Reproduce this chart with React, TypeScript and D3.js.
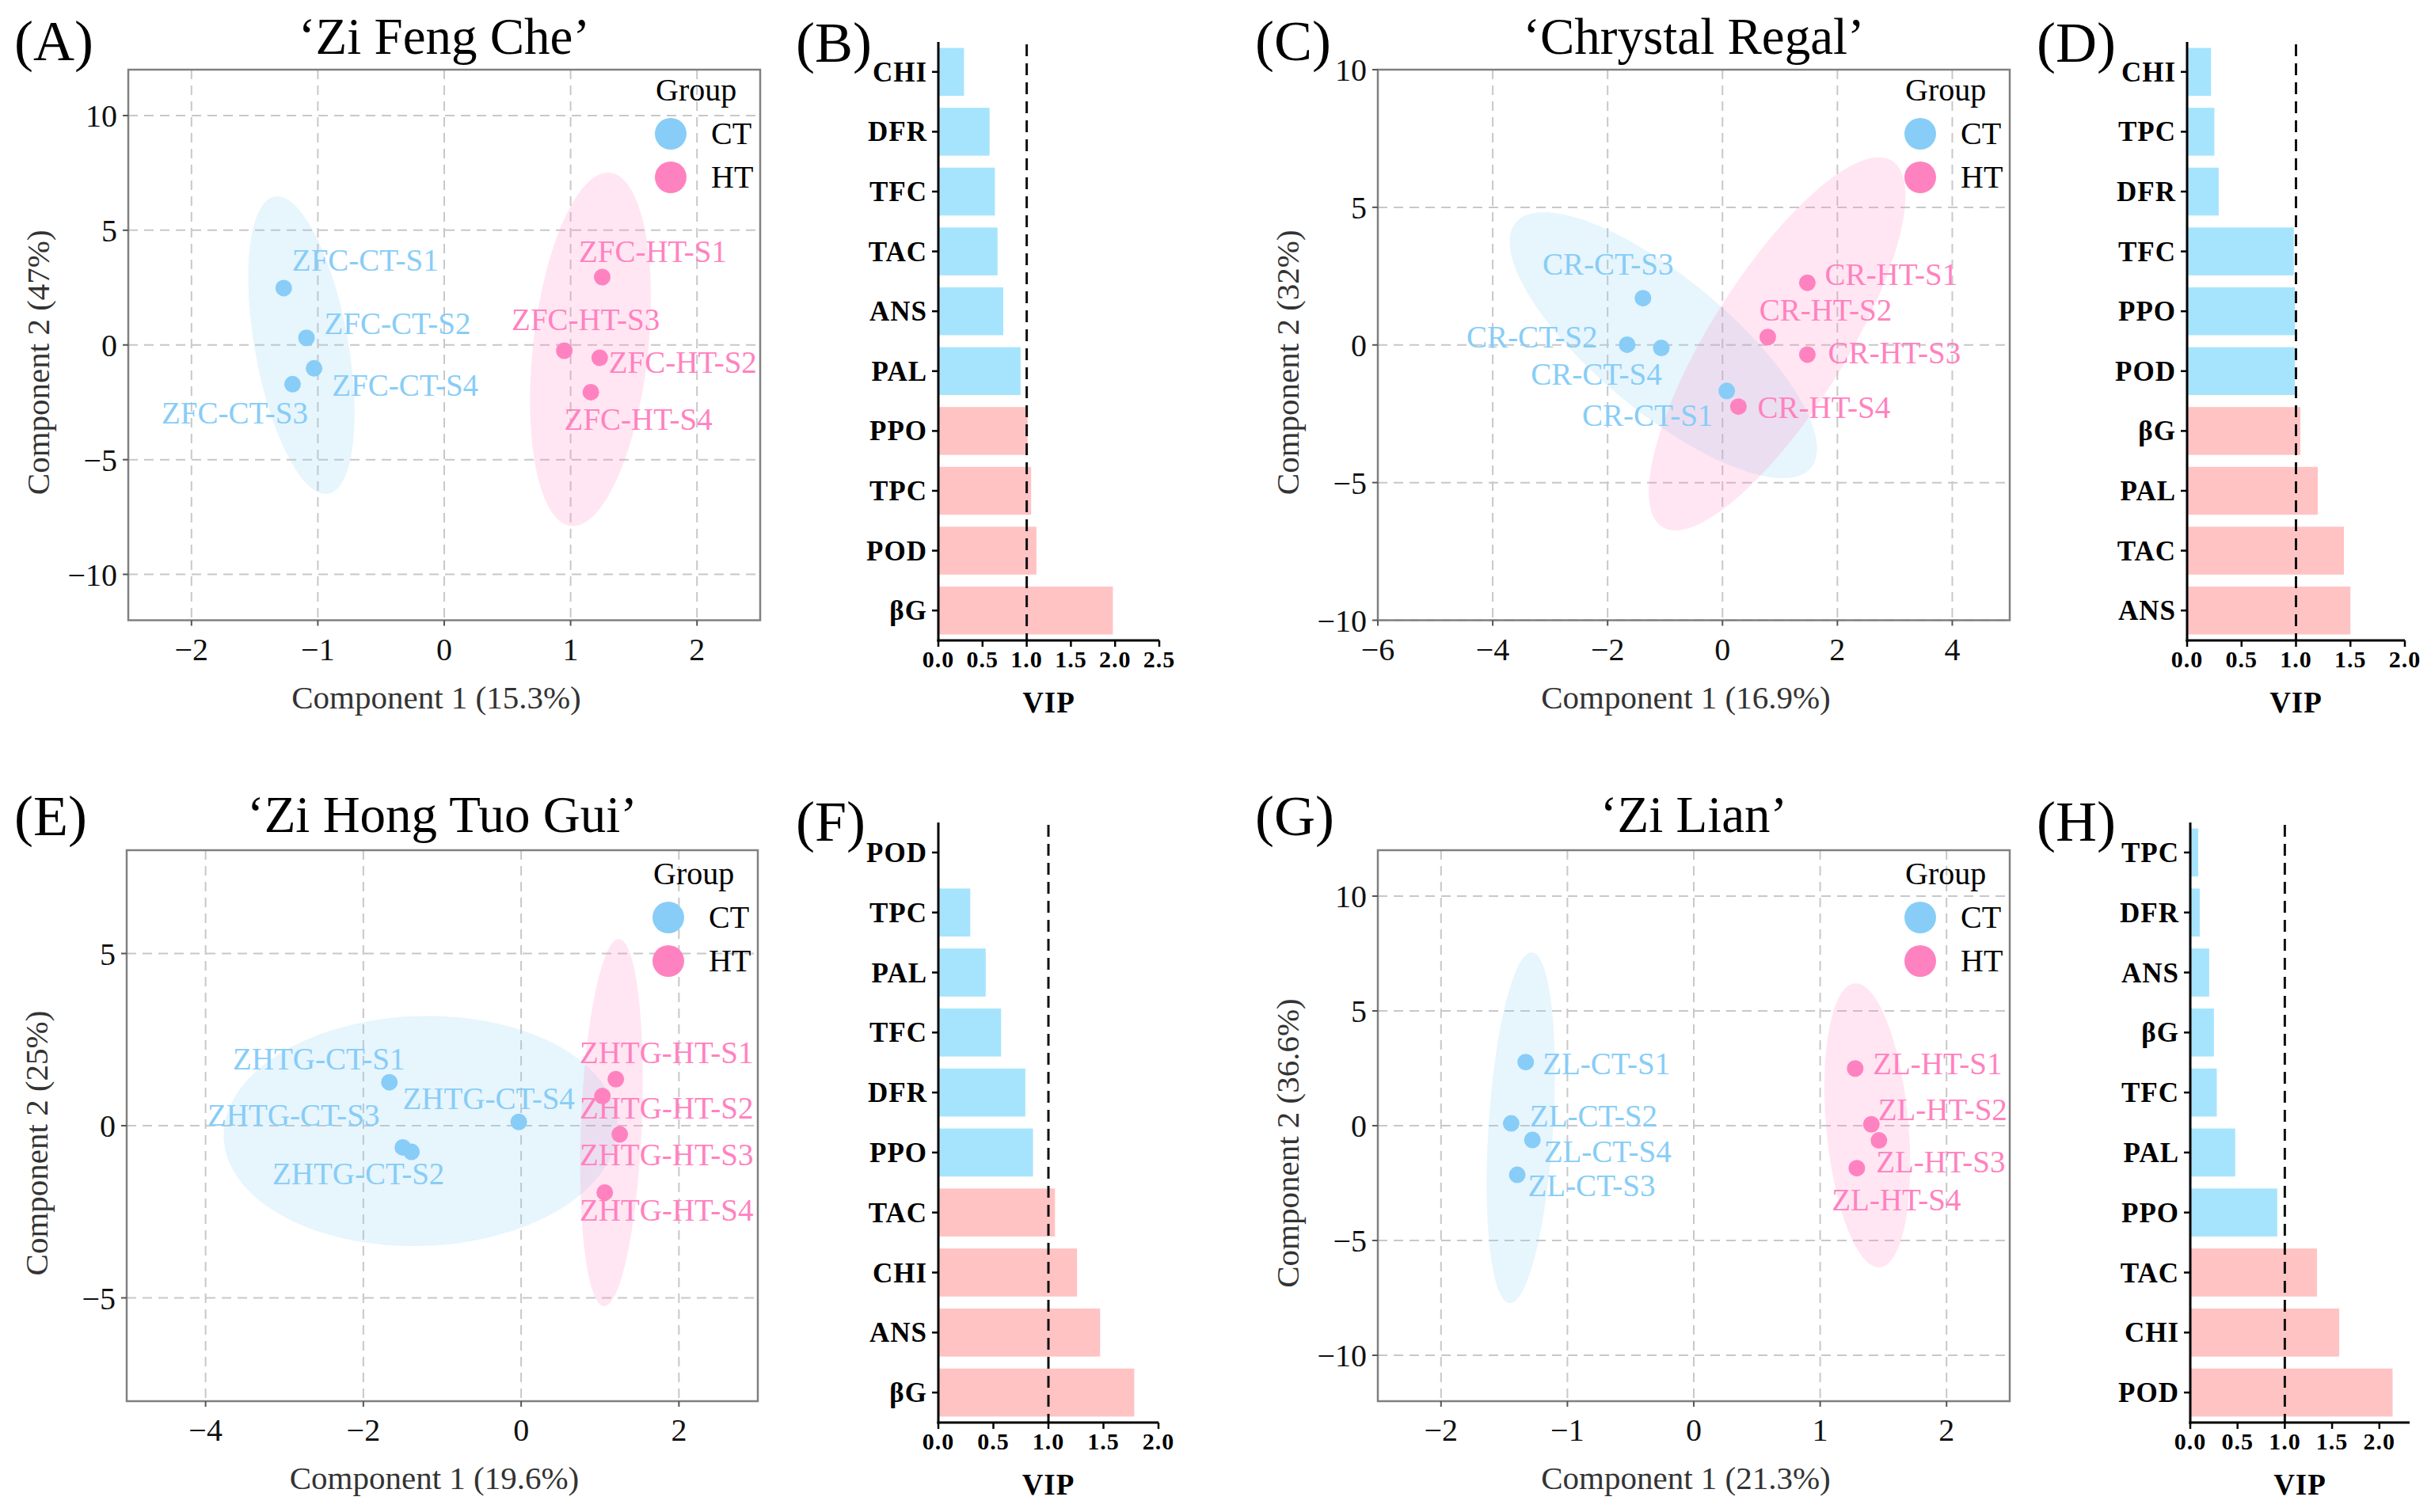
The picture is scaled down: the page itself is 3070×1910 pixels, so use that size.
import * as d3 from 'd3'
import { useEffect, useRef } from 'react'

const FONT = '"Liberation Serif", "Times New Roman", serif'
const CT_COLOR = '#87cdf7'
const HT_COLOR = '#ff82c0'
const BLUE_BAR = '#a6e4fd'
const PINK_BAR = '#ffc3c4'

const groups = ['CT', 'HT']
const samples = ['S1', 'S2', 'S3', 'S4']

// 'Zi Feng Che' scores (S1..S4)
const zfcCtX = [-1.27, -1.09, -1.2, -1.03]
const zfcCtY = [2.48, 0.31, -1.71, -1.02]
const zfcHtX = [1.25, 1.23, 0.95, 1.16]
const zfcHtY = [2.96, -0.56, -0.25, -2.06]
// ellipse: centre, end of major semi-axis, end of minor semi-axis (data units)
const zfcCtEllipse = [-1.13, -0.01, -1.34, 6.47, -0.766, 0.31]
const zfcHtEllipse = [1.157, -0.19, 1.31, 7.51, 1.61, -0.44]

// 'Chrystal Regal'
const crCtX = [0.074, -1.66, -1.385, -1.065]
const crCtY = [-1.67, 0.01, 1.7, -0.11]
const crHtX = [1.477, 0.788, 1.477, 0.277]
const crHtY = [2.26, 0.287, -0.35, -2.24]
const crCtEllipse = [-1.03, -0.01, -3.6, 4.44, -0.29, 1.87]
const crHtEllipse = [0.95, 0.04, 2.95, 6.69, 1.945, -1.26]

// 'Zi Hong Tuo Gui'
const zhtgCtX = [-1.67, -1.39, -1.5, -0.03]
const zhtgCtY = [1.26, -0.76, -0.63, 0.11]
const zhtgHtX = [1.2, 1.03, 1.25, 1.06]
const zhtgHtY = [1.35, 0.86, -0.25, -1.94]
const zhtgCtEllipse = [-1.275, -0.155, -3.77, -0.35, -1.33, 3.18]
const zhtgHtEllipse = [1.145, 0.09, 1.24, 5.42, 1.53, 0.06]

// 'Zi Lian'
const zlCtX = [-1.33, -1.445, -1.397, -1.277]
const zlCtY = [2.77, 0.1, -2.14, -0.62]
const zlHtX = [1.277, 1.405, 1.465, 1.29]
const zlHtY = [2.49, 0.06, -0.64, -1.85]
const zlCtEllipse = [-1.369, -0.09, -1.281, 7.55, -1.114, -0.166]
const zlHtEllipse = [1.373, 0.015, 1.273, 6.2, 1.697, 0.17]

// label nudges (px) for the repelled sample names, S1..S4
const zfcCtNudge = [[103, -22], [115, -5], [-73, 50], [115, 35]]
const zfcHtNudge = [[64, -19], [105, 19], [27, -26], [60, 48]]
const crCtNudge = [[-100, 44], [-120, 4], [-44, -30], [-82, 46]]
const crHtNudge = [[106, 3], [73, -21], [110, 11], [108, 14]]
const zhtgCtNudge = [[-89, -16], [-67, 41], [-138, -27], [-38, -16]]
const zhtgHtNudge = [[64, -20], [81, 28], [59, 39], [78, 36]]
const zlCtNudge = [[102, 15], [104, 4], [94, 27], [95, 28]]
const zlHtNudge = [[104, 7], [90, -5], [78, 40], [50, 53]]

// VIP bars, top to bottom
const vipZfcNames = ['CHI', 'DFR', 'TFC', 'TAC', 'ANS', 'PAL', 'PPO', 'TPC', 'POD', 'βG']
const vipZfcValues = [0.29, 0.58, 0.64, 0.67, 0.735, 0.93, 1.01, 1.05, 1.11, 1.975]
const vipCrNames = ['CHI', 'TPC', 'DFR', 'TFC', 'PPO', 'POD', 'βG', 'PAL', 'TAC', 'ANS']
const vipCrValues = [0.22, 0.25, 0.29, 0.98, 0.99, 0.99, 1.04, 1.2, 1.44, 1.5]
const vipZhtgNames = ['POD', 'TPC', 'PAL', 'TFC', 'DFR', 'PPO', 'TAC', 'CHI', 'ANS', 'βG']
const vipZhtgValues = [0, 0.29, 0.43, 0.57, 0.79, 0.86, 1.06, 1.26, 1.47, 1.78]
const vipZlNames = ['TPC', 'DFR', 'ANS', 'βG', 'TFC', 'PAL', 'PPO', 'TAC', 'CHI', 'POD']
const vipZlValues = [0.084, 0.1, 0.2, 0.25, 0.28, 0.475, 0.92, 1.34, 1.575, 2.14]

type Sel = d3.Selection<SVGSVGElement, unknown, null, undefined>

interface ScatterCfg {
  letter: string
  title: string
  prefix: string
  box: [number, number, number, number]
  labelX: number
  labelY: number
  titleY: number
  legendDy: [number, number, number]
  xDomain: [number, number]
  yDomain: [number, number]
  xTicks: number[]
  yTicks: number[]
  xTitle: string
  yTitle: string
  ct: [number[], number[]]
  ht: [number[], number[]]
  ctEllipse: number[]
  htEllipse: number[]
  ctNudge: number[][]
  htNudge: number[][]
}

function drawScatter(svg: Sel, c: ScatterCfg) {
  const [x0, x1, y0, y1] = c.box
  const x = d3.scaleLinear().domain(c.xDomain).range([x0, x1])
  const y = d3.scaleLinear().domain(c.yDomain).range([y1, y0])
  const g = svg.append('g').style('font-family', FONT)
  const fmt = d3.format('d')

  // grid
  g.selectAll('.vg')
    .data(c.xTicks)
    .enter()
    .append('line')
    .attr('x1', d => x(d))
    .attr('x2', d => x(d))
    .attr('y1', y0)
    .attr('y2', y1)
    .attr('stroke', '#c8c8c8')
    .attr('stroke-width', 2)
    .attr('stroke-dasharray', '12,8')
  g.selectAll('.hg')
    .data(c.yTicks)
    .enter()
    .append('line')
    .attr('x1', x0)
    .attr('x2', x1)
    .attr('y1', d => y(d))
    .attr('y2', d => y(d))
    .attr('stroke', '#c8c8c8')
    .attr('stroke-width', 2)
    .attr('stroke-dasharray', '12,8')

  // ellipses
  let ell: number[] = []
  function ellPt(t: number, k: number) {
    const cx = ell[k]
    return cx + (ell[2 + k] - cx) * Math.cos(t) + (ell[4 + k] - cx) * Math.sin(t)
  }
  const line = d3
    .line<number>()
    .x(t => x(ellPt(t, 0)))
    .y(t => y(ellPt(t, 1)))
  const ts = d3.range(0, 181).map(i => (i / 180) * 2 * Math.PI)
  ;[
    [c.ctEllipse, CT_COLOR],
    [c.htEllipse, HT_COLOR],
  ].forEach(([e, col]) => {
    ell = e as number[]
    g.append('path')
      .attr('d', line(ts)!)
      .attr('fill', col as string)
      .attr('fill-opacity', 0.2)
  })

  // points + labels
  const sets: [number[], number[], number[][], string, string][] = [
    [c.ct[0], c.ct[1], c.ctNudge, CT_COLOR, 'CT'],
    [c.ht[0], c.ht[1], c.htNudge, HT_COLOR, 'HT'],
  ]
  sets.forEach(([xs, ys, nudge, col, grp]) => {
    xs.forEach((xv, i) => {
      g.append('circle')
        .attr('cx', x(xv))
        .attr('cy', y(ys[i]))
        .attr('r', 10.5)
        .attr('fill', col)
      g.append('text')
        .attr('x', x(xv) + nudge[i][0])
        .attr('y', y(ys[i]) + nudge[i][1])
        .attr('text-anchor', 'middle')
        .attr('fill', col)
        .style('font-size', '39px')
        .text(`${c.prefix}-${grp}-${samples[i]}`)
    })
  })

  // border
  g.append('rect')
    .attr('x', x0)
    .attr('y', y0)
    .attr('width', x1 - x0)
    .attr('height', y1 - y0)
    .attr('fill', 'none')
    .attr('stroke', '#808080')
    .attr('stroke-width', 2.5)

  // ticks
  c.xTicks.forEach(t => {
    g.append('line')
      .attr('x1', x(t))
      .attr('x2', x(t))
      .attr('y1', y1)
      .attr('y2', y1 + 7)
      .attr('stroke', '#555')
      .attr('stroke-width', 2)
    g.append('text')
      .attr('x', x(t))
      .attr('y', y1 + 50)
      .attr('text-anchor', 'middle')
      .attr('fill', '#111')
      .style('font-size', '40px')
      .text(fmt(t))
  })
  c.yTicks.forEach(t => {
    g.append('line')
      .attr('x1', x0 - 7)
      .attr('x2', x0)
      .attr('y1', y(t))
      .attr('y2', y(t))
      .attr('stroke', '#555')
      .attr('stroke-width', 2)
    g.append('text')
      .attr('x', x0 - 14)
      .attr('y', y(t) + 14)
      .attr('text-anchor', 'end')
      .attr('fill', '#111')
      .style('font-size', '40px')
      .text(fmt(t))
  })

  // axis titles
  g.append('text')
    .attr('x', (x0 + x1) / 2 - 10)
    .attr('y', y1 + 111)
    .attr('text-anchor', 'middle')
    .attr('fill', '#333')
    .style('font-size', '41px')
    .text(c.xTitle)
  g.append('text')
    .attr('transform', `translate(${x0 - 100},${(y0 + y1) / 2 + 22}) rotate(-90)`)
    .attr('text-anchor', 'middle')
    .attr('fill', '#333')
    .style('font-size', '41px')
    .text(c.yTitle)

  // title + panel letter
  g.append('text')
    .attr('x', (x0 + x1) / 2)
    .attr('y', c.titleY)
    .attr('text-anchor', 'middle')
    .attr('fill', '#000')
    .style('font-size', '65px')
    .text(c.title)
  g.append('text')
    .attr('x', c.labelX)
    .attr('y', c.labelY)
    .attr('fill', '#000')
    .style('font-size', '72px')
    .text(`(${c.letter})`)

  // legend
  const [dg, d1, d2] = c.legendDy
  g.append('text')
    .attr('x', x1 - 132)
    .attr('y', y0 + dg)
    .style('font-size', '40px')
    .text('Group')
  groups.forEach((grp, i) => {
    const cy = y0 + (i === 0 ? d1 : d2)
    g.append('circle')
      .attr('cx', x1 - 113)
      .attr('cy', cy)
      .attr('r', 20)
      .attr('fill', i === 0 ? CT_COLOR : HT_COLOR)
    g.append('text')
      .attr('x', x1 - 62)
      .attr('y', cy + 13)
      .style('font-size', '40px')
      .text(grp)
  })
}

interface BarCfg {
  letter: string
  labelX: number
  labelY: number
  xRange: [number, number]
  yRange: [number, number]
  xMax: number
  ticks: number[]
  names: string[]
  values: number[]
}

function drawBars(svg: Sel, c: BarCfg) {
  const [x0, x1] = c.xRange
  const [y0, y1] = c.yRange
  const x = d3.scaleLinear().domain([0, c.xMax]).range([x0, x1])
  const y = d3
    .scaleBand<string>()
    .domain(c.names)
    .range([y0, y1])
    .paddingInner(0.2)
    .paddingOuter(0.1)
  const g = svg.append('g').style('font-family', FONT)

  g.selectAll('.bar')
    .data(c.values)
    .enter()
    .append('rect')
    .attr('x', x(0))
    .attr('y', (d, i) => y(c.names[i])!)
    .attr('width', d => x(d) - x(0))
    .attr('height', y.bandwidth())
    .attr('fill', d => (d >= 1 ? PINK_BAR : BLUE_BAR))

  // threshold at VIP = 1
  g.append('line')
    .attr('x1', x(1))
    .attr('x2', x(1))
    .attr('y1', y0 + 3)
    .attr('y2', y1)
    .attr('stroke', '#111')
    .attr('stroke-width', 3)
    .attr('stroke-dasharray', '15,9')

  // axes
  g.append('line')
    .attr('x1', x0)
    .attr('x2', x0)
    .attr('y1', y0)
    .attr('y2', y1 + 1.5)
    .attr('stroke', '#000')
    .attr('stroke-width', 3)
  g.append('line')
    .attr('x1', x0 - 1.5)
    .attr('x2', x1)
    .attr('y1', y1)
    .attr('y2', y1)
    .attr('stroke', '#000')
    .attr('stroke-width', 3)

  c.names.forEach(n => {
    const cy = y(n)! + y.bandwidth() / 2
    g.append('line')
      .attr('x1', x0 - 8)
      .attr('x2', x0)
      .attr('y1', cy)
      .attr('y2', cy)
      .attr('stroke', '#000')
      .attr('stroke-width', 2.5)
    g.append('text')
      .attr('x', x0 - 14)
      .attr('y', cy + 12)
      .attr('text-anchor', 'end')
      .style('font-size', '35px')
      .style('font-weight', 'bold')
      .style('letter-spacing', '1px')
      .text(n)
  })
  const fmt = d3.format('.1f')
  c.ticks.forEach(t => {
    g.append('line')
      .attr('x1', x(t))
      .attr('x2', x(t))
      .attr('y1', y1)
      .attr('y2', y1 + 8)
      .attr('stroke', '#000')
      .attr('stroke-width', 2.5)
    g.append('text')
      .attr('x', x(t))
      .attr('y', y1 + 34)
      .attr('text-anchor', 'middle')
      .style('font-size', '30px')
      .style('font-weight', 'bold')
      .style('letter-spacing', '1px')
      .text(fmt(t))
  })
  g.append('text')
    .attr('x', (x0 + x1) / 2)
    .attr('y', y1 + 91)
    .attr('text-anchor', 'middle')
    .style('font-size', '37px')
    .style('font-weight', 'bold')
    .style('letter-spacing', '1px')
    .text('VIP')

  g.append('text')
    .attr('x', c.labelX)
    .attr('y', c.labelY)
    .style('font-size', '72px')
    .text(`(${c.letter})`)
}

const ticks5 = [-10, -5, 0, 5, 10]

export default function App() {
  const svgRef = useRef<SVGSVGElement>(null)

  useEffect(() => {
    if (!svgRef.current) return
    const svg = d3.select(svgRef.current)
    svg.selectAll('*').remove()

    drawScatter(svg, {
      letter: 'A',
      title: '\u2018Zi Feng Che\u2019',
      prefix: 'ZFC',
      box: [162, 960, 88, 783.5],
      labelX: 18,
      labelY: 76,
      titleY: 68,
      legendDy: [39, 81, 136],
      xDomain: [-2.5, 2.5],
      yDomain: [-12, 12],
      xTicks: [-2, -1, 0, 1, 2],
      yTicks: ticks5,
      xTitle: 'Component 1 (15.3%)',
      yTitle: 'Component 2 (47%)',
      ct: [zfcCtX, zfcCtY],
      ht: [zfcHtX, zfcHtY],
      ctEllipse: zfcCtEllipse,
      htEllipse: zfcHtEllipse,
      ctNudge: zfcCtNudge,
      htNudge: zfcHtNudge,
    })
    drawScatter(svg, {
      letter: 'C',
      title: '\u2018Chrystal Regal\u2019',
      prefix: 'CR',
      box: [1740, 2538, 88, 783.5],
      labelX: 1585,
      labelY: 76,
      titleY: 68,
      legendDy: [39, 81, 136],
      xDomain: [-6, 5],
      yDomain: [-10, 10],
      xTicks: [-6, -4, -2, 0, 2, 4],
      yTicks: ticks5,
      xTitle: 'Component 1 (16.9%)',
      yTitle: 'Component 2 (32%)',
      ct: [crCtX, crCtY],
      ht: [crHtX, crHtY],
      ctEllipse: crCtEllipse,
      htEllipse: crHtEllipse,
      ctNudge: crCtNudge,
      htNudge: crHtNudge,
    })
    drawScatter(svg, {
      letter: 'E',
      title: '\u2018Zi Hong Tuo Gui\u2019',
      prefix: 'ZHTG',
      box: [160, 957, 1074, 1770],
      labelX: 18,
      labelY: 1055,
      titleY: 1051,
      legendDy: [43, 85, 140],
      xDomain: [-5, 3],
      yDomain: [-8, 8],
      xTicks: [-4, -2, 0, 2],
      yTicks: [-5, 0, 5],
      xTitle: 'Component 1 (19.6%)',
      yTitle: 'Component 2 (25%)',
      ct: [zhtgCtX, zhtgCtY],
      ht: [zhtgHtX, zhtgHtY],
      ctEllipse: zhtgCtEllipse,
      htEllipse: zhtgHtEllipse,
      ctNudge: zhtgCtNudge,
      htNudge: zhtgHtNudge,
    })
    drawScatter(svg, {
      letter: 'G',
      title: '\u2018Zi Lian\u2019',
      prefix: 'ZL',
      box: [1740, 2538, 1074, 1770],
      labelX: 1585,
      labelY: 1055,
      titleY: 1051,
      legendDy: [43, 85, 140],
      xDomain: [-2.5, 2.5],
      yDomain: [-12, 12],
      xTicks: [-2, -1, 0, 1, 2],
      yTicks: ticks5,
      xTitle: 'Component 1 (21.3%)',
      yTitle: 'Component 2 (36.6%)',
      ct: [zlCtX, zlCtY],
      ht: [zlHtX, zlHtY],
      ctEllipse: zlCtEllipse,
      htEllipse: zlHtEllipse,
      ctNudge: zlCtNudge,
      htNudge: zlHtNudge,
    })

    drawBars(svg, {
      letter: 'B',
      labelX: 1005,
      labelY: 78,
      xRange: [1185, 1464],
      yRange: [53, 809],
      xMax: 2.5,
      ticks: [0, 0.5, 1, 1.5, 2, 2.5],
      names: vipZfcNames,
      values: vipZfcValues,
    })
    drawBars(svg, {
      letter: 'D',
      labelX: 2572,
      labelY: 78,
      xRange: [2762, 3037],
      yRange: [53, 809],
      xMax: 2,
      ticks: [0, 0.5, 1, 1.5, 2],
      names: vipCrNames,
      values: vipCrValues,
    })
    drawBars(svg, {
      letter: 'F',
      labelX: 1005,
      labelY: 1062,
      xRange: [1185, 1463],
      yRange: [1039, 1797],
      xMax: 2,
      ticks: [0, 0.5, 1, 1.5, 2],
      names: vipZhtgNames,
      values: vipZhtgValues,
    })
    drawBars(svg, {
      letter: 'H',
      labelX: 2572,
      labelY: 1062,
      xRange: [2766, 3043],
      yRange: [1039, 1797],
      xMax: 2.32,
      ticks: [0, 0.5, 1, 1.5, 2],
      names: vipZlNames,
      values: vipZlValues,
    })
  }, [])

  return (
    <svg
      ref={svgRef}
      width={3070}
      height={1910}
      style={{ position: 'absolute', left: 0, top: 0, background: '#fff' }}
    />
  )
}
